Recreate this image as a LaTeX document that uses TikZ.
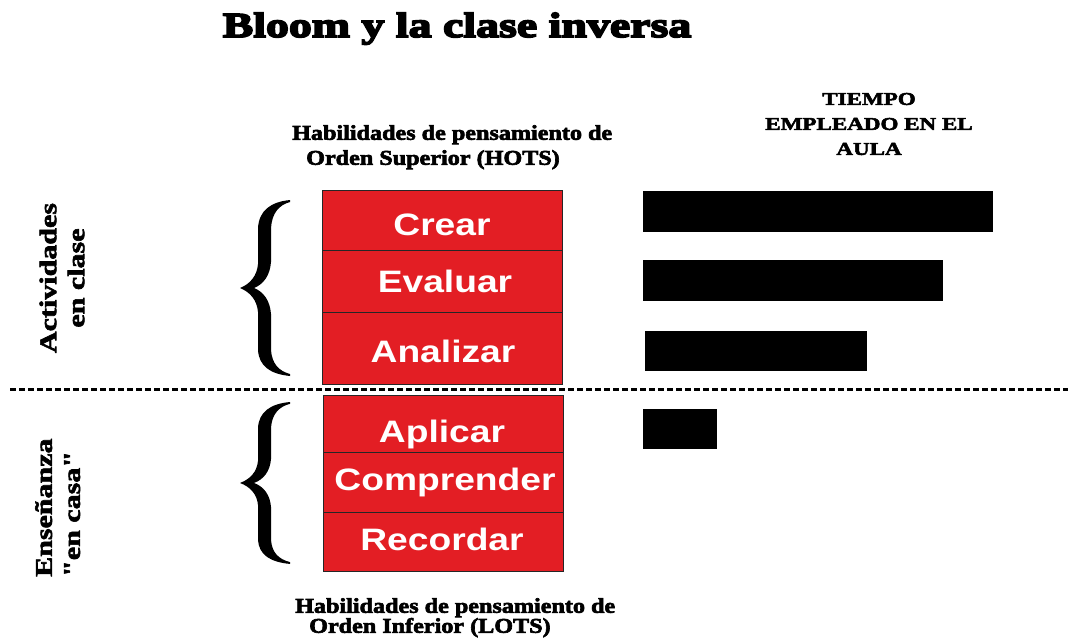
\documentclass[tikz,border=0pt]{standalone}
\usepackage{fontspec}
\newfontfamily\titlefont{Liberation Serif Bold}[FakeBold=5,FakeStretch=1.31]
\newfontfamily\hdrfont{Liberation Serif Bold}[FakeBold=3,FakeStretch=1.15]
\newfontfamily\timefont{Liberation Serif Bold}[FakeBold=3,FakeStretch=1.28]
\newfontfamily\sidefont{Liberation Serif Bold}[FakeBold=2.5,FakeStretch=1.25]
\newfontfamily\boxfont{Liberation Sans Bold}[FakeStretch=1.2]
\definecolor{bloomred}{RGB}{227,30,36}
\tikzset{
  box/.style={draw=black!85, line width=0.8pt, fill=bloomred, minimum width=240pt, inner sep=0pt, anchor=north west},
  boxtext/.style={text=white, font=\boxfont\fontsize{31}{36}\selectfont, inner sep=0pt, anchor=base},
  bar/.style={fill=black, inner sep=0pt, anchor=north west},
  hdr/.style={font=\hdrfont\fontsize{21}{25}\selectfont, inner sep=0pt, align=left, anchor=north west},
  side/.style={font=\sidefont\fontsize{24}{28}\selectfont, inner sep=0pt, rotate=90},
  brace/.pic={
    \fill (50,0) .. controls (30,2) and (19,11) .. (18,28) -- (18,64)
      .. controls (17,76) and (10,84) .. (0,88)
      .. controls (10,92) and (17,100) .. (18,112) -- (18,150)
      .. controls (19,166) and (30,174) .. (50,176) -- (50,174)
      .. controls (39,171) and (32,164) .. (31,150) -- (31,114)
      .. controls (30,101) and (24,92) .. (14,88)
      .. controls (24,84) and (30,75) .. (31,62) -- (31,28)
      .. controls (32,13) and (39,5) .. (50,2) -- cycle;
  }
}
\begin{document}
\begin{tikzpicture}[x=1pt,y=-1pt]
\useasboundingbox[fill=white] (0,0) rectangle (1068,640);

% title
\node[font=\titlefont\fontsize{35}{40}\selectfont, inner sep=0pt, anchor=base] (title) at (457,37) {Bloom y la clase inversa};

% headers
\node[hdr] (hots) at (292,125) {Habilidades de pensamiento de\\\hspace*{14pt}Orden Superior (HOTS)};
\node[hdr] (lots) at (295,598) {Habilidades de pensamiento de\\[-5pt]\hspace*{14pt}Orden Inferior (LOTS)};
\node[font=\timefont\fontsize{18}{25}\selectfont, inner sep=0pt, align=center] (tiempo) at (869,124) {TIEMPO\\EMPLEADO EN EL\\AULA};

% side labels
\node[side, align=center] (clase) at (62,278) {Actividades\\en clase};
\node[side, align=left, anchor=north west] (casa) at (35,577) {Enseñanza\\"en casa"};

% dashed divider
\coordinate (dl) at (10,389);
\coordinate (dr) at (1068,389);
\draw[line width=3pt, dash pattern=on 6pt off 3pt] (dl) -- (dr);

% boxes
\node[box, minimum height=60pt] (crear) at (322,190) {};
\node[box, minimum height=62pt] (evaluar) at (322,250) {};
\node[box, minimum height=72pt] (analizar) at (322,312) {};
\node[box, minimum height=57pt] (aplicar) at (323,395) {};
\node[box, minimum height=60pt] (comprender) at (323,452) {};
\node[box, minimum height=59pt] (recordar) at (323,512) {};

\node[boxtext] (tcrear) at (442,235) {Crear};
\node[boxtext] (tevaluar) at (445,292) {Evaluar};
\node[boxtext] (tanalizar) at (443,362) {Analizar};
\node[boxtext] (taplicar) at (442,442) {Aplicar};
\node[boxtext] (tcomprender) at (445,490) {Comprender};
\node[boxtext] (trecordar) at (442,550) {Recordar};

% braces
\pic at (240,200) {brace};
\pic[yscale=0.92] at (240,402) {brace};

% bars
\node[bar, minimum width=350pt, minimum height=41pt] (bar1) at (643,191) {};
\node[bar, minimum width=300pt, minimum height=41pt] (bar2) at (643,260) {};
\node[bar, minimum width=222pt, minimum height=40pt] (bar3) at (645,331) {};
\node[bar, minimum width=74pt, minimum height=40pt] (bar4) at (643,409) {};
\end{tikzpicture}
\end{document}
